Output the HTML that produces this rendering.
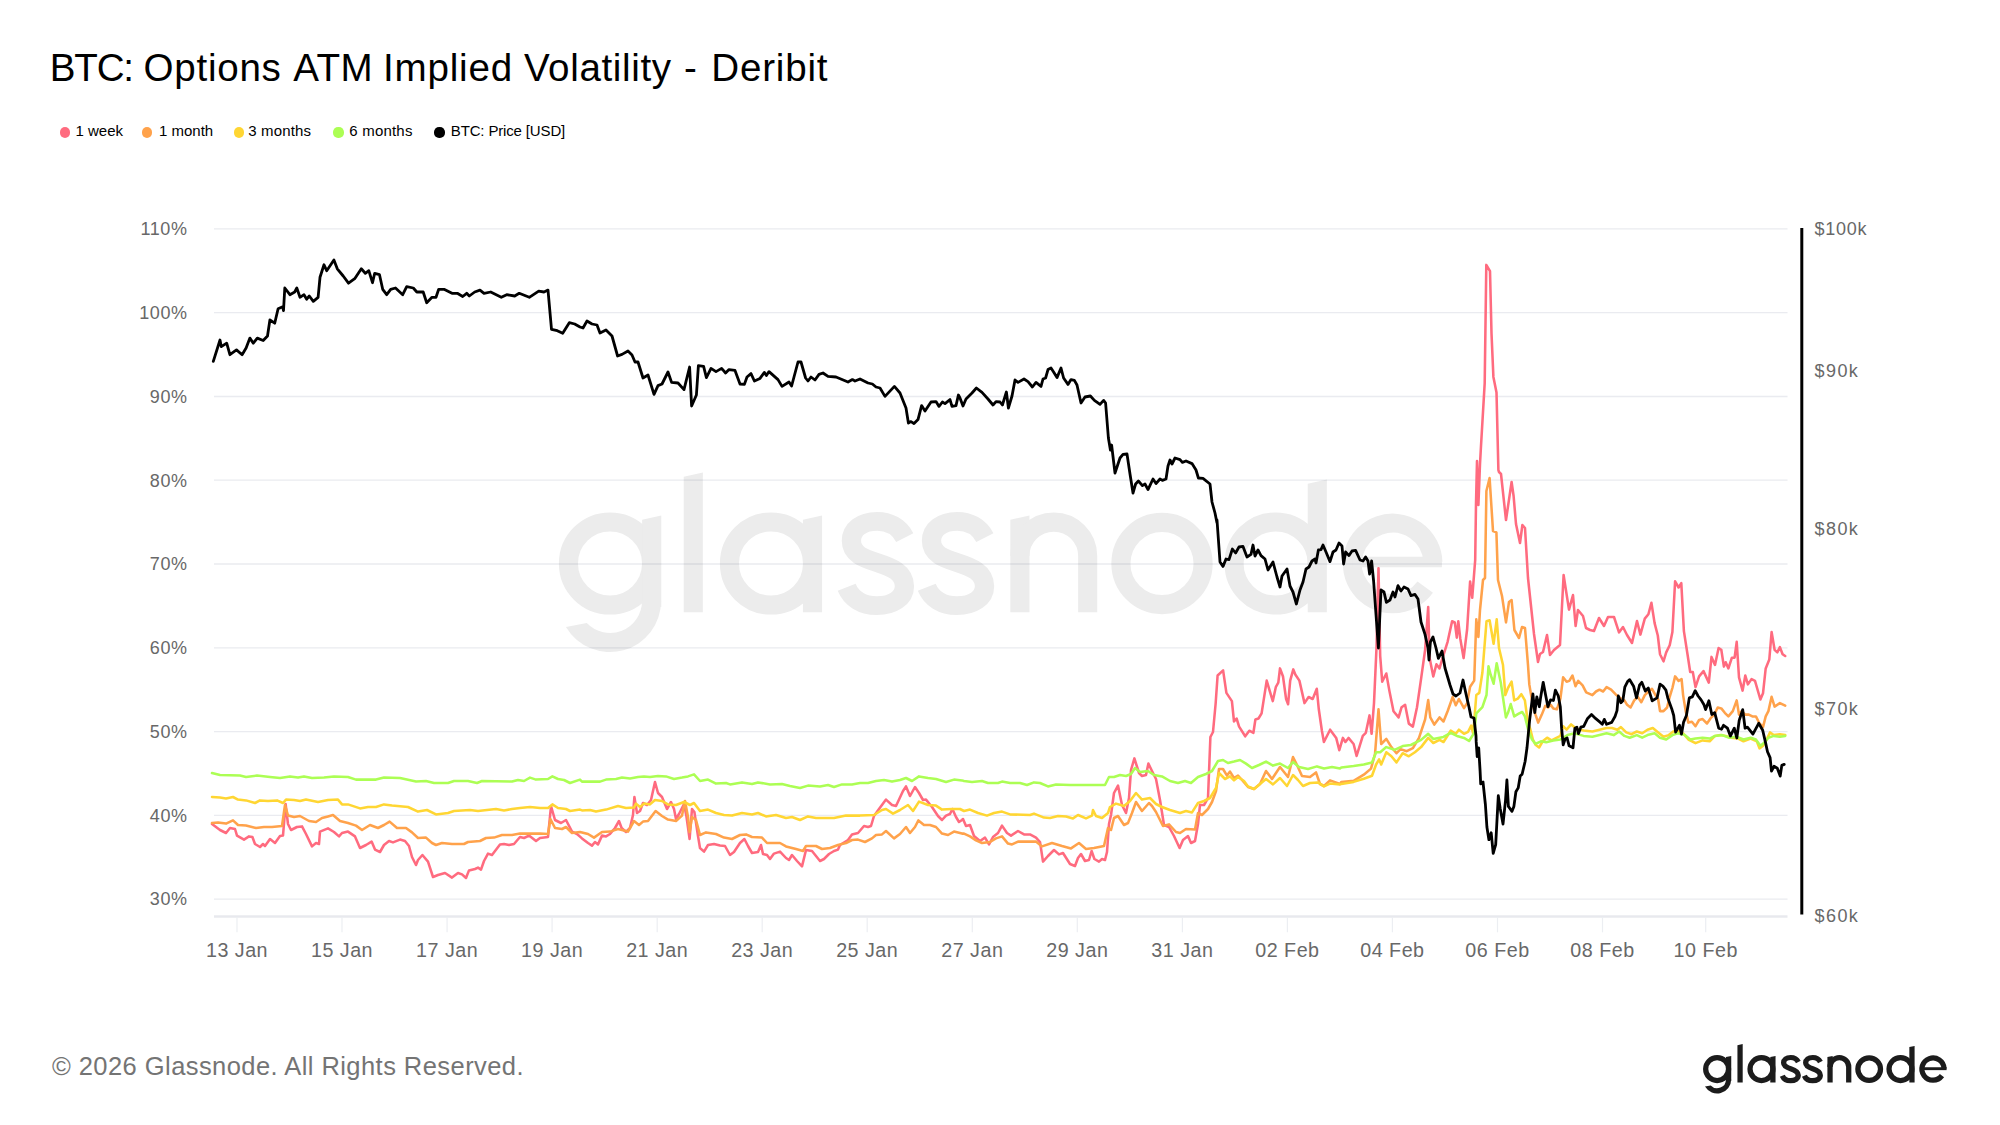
<!DOCTYPE html>
<html><head><meta charset="utf-8"><title>BTC: Options ATM Implied Volatility - Deribit</title>
<style>
html,body{margin:0;padding:0;background:#fff}
body{width:2000px;height:1125px;position:relative;overflow:hidden;font-family:"Liberation Sans",sans-serif}
.tw{position:absolute;top:37.5px;font-size:38.6px;line-height:60px;height:60px;color:#000;white-space:nowrap}
.dot{position:absolute;top:127.4px;width:10.2px;height:10.2px;border-radius:50%}
.lt{position:absolute;top:122px;font-size:15px;line-height:18px;color:#000;white-space:nowrap}
.foot{position:absolute;left:52px;top:1035.7px;font-size:25.5px;line-height:60px;height:60px;color:#747474;white-space:nowrap;letter-spacing:0.438px}
</style></head><body>
<div class="tw" style="left:49.7px;letter-spacing:-1.167px">BTC:</div><div class="tw" style="left:143.6px;letter-spacing:0.717px">Options</div><div class="tw" style="left:293.2px;letter-spacing:0.4px">ATM</div><div class="tw" style="left:383.0px;letter-spacing:0.8px">Implied</div><div class="tw" style="left:523.9px;letter-spacing:0.622px">Volatility</div><div class="tw" style="left:684.1px;letter-spacing:0px">-</div><div class="tw" style="left:711.3px;letter-spacing:0.8px">Deribit</div>
<div class="dot" style="left:59.9px;background:#ff6b7f"></div><div class="lt" style="left:75.5px;letter-spacing:0px">1 week</div><div class="dot" style="left:142.1px;background:#ffa24b"></div><div class="lt" style="left:159px;letter-spacing:0px">1 month</div><div class="dot" style="left:233.6px;background:#ffd633"></div><div class="lt" style="left:248.3px;letter-spacing:0.15px">3 months</div><div class="dot" style="left:333.4px;background:#acfe54"></div><div class="lt" style="left:349.3px;letter-spacing:0.2px">6 months</div><div class="dot" style="left:434.4px;background:#000"></div><div class="lt" style="left:450.8px;letter-spacing:-0.15px">BTC: Price [USD]</div>
<svg width="2000" height="1125" viewBox="0 0 2000 1125" style="position:absolute;left:0;top:0"><g fill="none" stroke="#ececec" stroke-width="19.1" stroke-linecap="butt"><circle cx="610" cy="563.5" r="41.55"/><path stroke="none" fill="#ececec" d="M642.15 519.70 L661.25 515.50 L661.25 607 L642.15 607 Z"/><path stroke="none" fill="#ececec" d="M661.10 601 A51.10 51.10 0 0 1 565.97 626.94 L586.79 623.03 A32.00 32.00 0 0 0 642.00 601 Z"/><path stroke="none" fill="#ececec" d="M683.75 476.80 L702.85 472.60 L702.85 612.3 L683.75 612.3 Z"/><circle cx="771" cy="563.5" r="41.55"/><path stroke="none" fill="#ececec" d="M802.95 519.70 L822.05 515.50 L822.05 612.3 L802.95 612.3 Z"/><path transform="translate(837.8 512.4) scale(3.68 3.6)" stroke-width="5.25" d="M18.2 7.0 C16.6 3.9 13.8 2.5 10.7 2.5 C6.4 2.5 3.7 4.8 3.7 7.9 C3.7 11.6 7.2 12.8 10.6 13.9 C14.6 15.2 18.1 16.6 18.1 20.5 C18.1 23.8 14.9 25.9 10.6 25.9 C6.6 25.9 3.7 24.0 2.4 20.8"/><path transform="translate(917.9 512.4) scale(3.68 3.6)" stroke-width="5.25" d="M18.2 7.0 C16.6 3.9 13.8 2.5 10.7 2.5 C6.4 2.5 3.7 4.8 3.7 7.9 C3.7 11.6 7.2 12.8 10.6 13.9 C14.6 15.2 18.1 16.6 18.1 20.5 C18.1 23.8 14.9 25.9 10.6 25.9 C6.6 25.9 3.7 24.0 2.4 20.8"/><path stroke="none" fill="#ececec" d="M1010.35 519.70 L1029.45 515.50 L1029.45 612.3 L1010.35 612.3 Z"/><path d="M1019.9 556 A33.9 33.9 0 0 1 1087.7 556 L1087.7 612.3"/><circle cx="1162" cy="563.5" r="41.1"/><circle cx="1275.6" cy="563.5" r="41.55"/><path stroke="none" fill="#ececec" d="M1307.75 483.70 L1326.85 479.50 L1326.85 612.3 L1307.75 612.3 Z"/><path d="M1432.8999999999999 562.0 A40.3 40.3 0 1 0 1425.2 587.2"/><path stroke-width="10.5" d="M1352.3 562.0 L1441.9499999999998 562.0"/></g><line x1="214" x2="1787.5" y1="228.9" y2="228.9" stroke="#1e2a5c" stroke-opacity="0.095" stroke-width="1.3"/><line x1="214" x2="1787.5" y1="312.7" y2="312.7" stroke="#1e2a5c" stroke-opacity="0.095" stroke-width="1.3"/><line x1="214" x2="1787.5" y1="396.5" y2="396.5" stroke="#1e2a5c" stroke-opacity="0.095" stroke-width="1.3"/><line x1="214" x2="1787.5" y1="480.2" y2="480.2" stroke="#1e2a5c" stroke-opacity="0.095" stroke-width="1.3"/><line x1="214" x2="1787.5" y1="564.0" y2="564.0" stroke="#1e2a5c" stroke-opacity="0.095" stroke-width="1.3"/><line x1="214" x2="1787.5" y1="647.8" y2="647.8" stroke="#1e2a5c" stroke-opacity="0.095" stroke-width="1.3"/><line x1="214" x2="1787.5" y1="731.6" y2="731.6" stroke="#1e2a5c" stroke-opacity="0.095" stroke-width="1.3"/><line x1="214" x2="1787.5" y1="815.4" y2="815.4" stroke="#1e2a5c" stroke-opacity="0.095" stroke-width="1.3"/><line x1="214" x2="1787.5" y1="899.1" y2="899.1" stroke="#1e2a5c" stroke-opacity="0.095" stroke-width="1.3"/><line x1="214" x2="1787.5" y1="916.5" y2="916.5" stroke="#1e2a5c" stroke-opacity="0.1" stroke-width="2.4"/><line x1="237.0" x2="237.0" y1="917" y2="932.3" stroke="#eceef2" stroke-width="1.2"/><line x1="342.0" x2="342.0" y1="917" y2="932.3" stroke="#eceef2" stroke-width="1.2"/><line x1="447.1" x2="447.1" y1="917" y2="932.3" stroke="#eceef2" stroke-width="1.2"/><line x1="552.1" x2="552.1" y1="917" y2="932.3" stroke="#eceef2" stroke-width="1.2"/><line x1="657.2" x2="657.2" y1="917" y2="932.3" stroke="#eceef2" stroke-width="1.2"/><line x1="762.2" x2="762.2" y1="917" y2="932.3" stroke="#eceef2" stroke-width="1.2"/><line x1="867.2" x2="867.2" y1="917" y2="932.3" stroke="#eceef2" stroke-width="1.2"/><line x1="972.3" x2="972.3" y1="917" y2="932.3" stroke="#eceef2" stroke-width="1.2"/><line x1="1077.3" x2="1077.3" y1="917" y2="932.3" stroke="#eceef2" stroke-width="1.2"/><line x1="1182.4" x2="1182.4" y1="917" y2="932.3" stroke="#eceef2" stroke-width="1.2"/><line x1="1287.4" x2="1287.4" y1="917" y2="932.3" stroke="#eceef2" stroke-width="1.2"/><line x1="1392.4" x2="1392.4" y1="917" y2="932.3" stroke="#eceef2" stroke-width="1.2"/><line x1="1497.5" x2="1497.5" y1="917" y2="932.3" stroke="#eceef2" stroke-width="1.2"/><line x1="1602.5" x2="1602.5" y1="917" y2="932.3" stroke="#eceef2" stroke-width="1.2"/><line x1="1705.7" x2="1705.7" y1="917" y2="932.3" stroke="#eceef2" stroke-width="1.2"/><line x1="1801.8" x2="1801.8" y1="228" y2="914.5" stroke="#000" stroke-width="3"/><path d="M212.0 824.0 L220.0 830.0 L226.0 833.0 L230.0 828.0 L235.0 829.0 L237.0 835.6 L244.0 839.6 L249.0 836.4 L252.4 837.0 L255.0 844.0 L260.0 847.0 L263.0 844.0 L265.0 846.0 L270.0 839.0 L275.0 843.0 L280.0 836.0 L283.0 835.6 L285.6 804.0 L288.0 824.0 L291.0 830.0 L297.0 827.0 L302.0 826.4 L306.0 834.0 L312.0 846.4 L316.0 843.0 L319.0 844.0 L320.0 831.6 L328.0 828.4 L334.0 832.0 L339.0 836.4 L342.0 833.0 L348.0 831.6 L355.0 836.4 L360.0 848.0 L366.0 845.0 L371.6 841.6 L375.0 849.6 L380.0 852.0 L384.0 845.0 L389.0 841.0 L393.0 842.4 L400.0 839.6 L405.0 841.0 L409.0 846.0 L412.0 857.0 L416.0 865.0 L418.0 860.0 L422.4 855.0 L428.0 861.6 L433.0 877.0 L438.0 875.0 L445.0 873.0 L452.0 877.6 L458.0 873.0 L462.0 874.4 L466.0 878.0 L469.0 870.4 L475.0 869.0 L478.0 867.6 L481.0 869.6 L484.0 861.0 L488.0 853.6 L492.0 855.0 L500.0 844.4 L504.0 844.0 L509.0 845.0 L514.0 844.0 L520.0 837.0 L524.0 838.0 L529.0 835.6 L536.0 841.0 L540.0 838.0 L548.0 837.0 L551.0 806.0 L555.0 820.0 L561.0 823.0 L566.0 820.0 L572.0 831.6 L577.0 834.0 L582.0 838.4 L588.0 843.0 L592.0 845.6 L595.0 842.0 L598.0 844.4 L602.0 835.6 L606.0 836.4 L610.0 834.0 L615.0 828.0 L619.0 821.0 L621.6 828.0 L626.0 832.0 L630.0 828.0 L633.0 815.0 L634.4 797.0 L637.0 813.0 L640.0 811.0 L643.0 803.0 L647.0 805.0 L651.0 800.0 L655.0 782.0 L658.0 793.0 L662.0 797.0 L667.0 809.0 L671.0 802.0 L674.0 809.0 L676.0 819.0 L679.0 814.0 L684.0 804.0 L686.4 816.0 L689.6 839.0 L692.0 809.0 L694.4 812.0 L698.0 836.0 L700.0 848.0 L704.0 851.6 L708.0 845.0 L714.0 844.0 L720.0 845.6 L725.0 846.0 L730.0 855.0 L734.0 852.0 L740.0 843.0 L744.4 839.0 L748.0 846.0 L752.0 853.0 L758.0 852.0 L761.0 845.0 L763.0 854.0 L767.0 855.0 L770.0 859.0 L774.0 853.6 L780.0 851.6 L786.0 858.0 L789.0 860.0 L792.0 855.0 L797.0 861.0 L802.0 866.4 L806.0 850.0 L812.0 851.0 L816.0 856.0 L820.0 861.0 L824.0 859.0 L829.0 854.0 L834.0 851.0 L838.0 849.6 L840.0 845.0 L848.0 840.0 L852.0 834.4 L858.0 833.0 L864.0 826.0 L868.0 827.0 L871.0 826.0 L874.0 816.0 L879.0 809.0 L886.0 799.6 L892.0 805.0 L896.0 806.0 L903.0 791.0 L906.0 786.4 L910.0 796.0 L915.0 787.0 L919.0 793.0 L923.0 800.0 L926.0 799.6 L932.0 807.0 L938.0 816.0 L942.0 820.0 L946.0 815.6 L950.0 814.0 L952.4 809.0 L956.0 817.0 L959.0 822.0 L962.0 820.0 L963.0 819.0 L966.0 826.0 L970.0 825.0 L974.0 836.0 L980.0 841.0 L985.0 837.6 L989.0 844.4 L993.0 837.0 L998.0 833.0 L1002.0 825.6 L1007.0 833.0 L1011.0 835.6 L1018.0 831.0 L1024.0 834.4 L1030.0 834.4 L1036.0 837.6 L1040.0 842.0 L1043.0 861.6 L1048.0 856.0 L1054.0 850.0 L1059.0 854.4 L1063.0 853.0 L1070.0 864.0 L1075.0 866.0 L1078.0 858.0 L1081.0 854.0 L1085.0 861.0 L1089.0 860.0 L1091.6 851.0 L1094.4 859.0 L1099.0 861.6 L1102.0 859.0 L1105.0 860.0 L1107.0 852.0 L1109.0 824.0 L1111.0 815.0 L1114.0 793.0 L1118.0 785.6 L1122.0 805.0 L1126.0 813.0 L1129.0 798.0 L1131.0 770.0 L1134.4 758.4 L1139.0 773.0 L1142.0 776.0 L1146.0 775.0 L1148.4 763.6 L1152.0 771.0 L1156.0 779.0 L1160.0 800.0 L1164.0 825.0 L1169.0 827.0 L1174.0 836.0 L1179.6 848.0 L1183.0 840.0 L1188.0 836.0 L1191.0 843.0 L1195.0 841.0 L1198.0 824.0 L1200.0 805.0 L1204.0 805.0 L1208.0 798.0 L1210.4 737.0 L1213.0 732.0 L1215.6 704.0 L1217.6 675.5 L1223.1 670.4 L1226.4 692.9 L1231.9 701.1 L1234.0 721.5 L1236.6 718.5 L1239.1 726.6 L1245.2 736.3 L1249.3 730.7 L1253.4 732.8 L1255.4 719.5 L1258.5 718.5 L1261.6 713.4 L1266.7 680.6 L1269.7 690.9 L1272.8 701.1 L1275.9 686.8 L1278.3 682.7 L1280.0 668.4 L1283.0 676.5 L1286.1 699.0 L1288.1 704.2 L1290.2 680.6 L1293.3 669.4 L1295.3 674.5 L1299.4 680.6 L1304.5 703.1 L1308.6 697.0 L1312.7 699.0 L1316.8 688.8 L1318.8 709.3 L1321.9 730.7 L1323.9 742.0 L1330.1 729.7 L1336.2 737.9 L1339.3 750.2 L1342.9 737.9 L1345.4 742.0 L1348.5 737.9 L1353.6 744.0 L1356.6 755.9 L1362.8 735.8 L1365.8 732.8 L1369.5 715.4 L1371.6 733.8 L1374.0 703.1 L1376.5 647.9 L1378.5 568.2 L1380.2 656.1 L1382.2 681.7 L1386.3 673.5 L1389.4 690.9 L1393.5 711.3 L1398.6 717.4 L1401.6 707.2 L1405.1 704.8 L1408.8 723.6 L1412.9 726.6 L1417.0 707.2 L1421.1 678.6 L1425.1 650.0 L1428.2 607.0 L1429.6 658.1 L1433.3 676.5 L1436.4 664.3 L1439.5 668.4 L1442.5 658.1 L1447.6 641.8 L1452.1 621.3 L1454.8 622.4 L1456.8 637.7 L1458.3 621.3 L1460.3 638.7 L1463.6 658.1 L1467.1 629.5 L1470.1 581.5 L1472.2 597.8 L1475.2 560.0 L1476.0 504.0 L1477.0 461.0 L1478.4 505.0 L1480.0 464.0 L1481.0 446.0 L1484.7 383.1 L1486.3 264.9 L1490.0 271.1 L1491.5 333.3 L1493.4 376.9 L1496.5 392.4 L1498.4 470.2 L1499.0 472.0 L1501.0 474.0 L1506.0 520.0 L1511.6 482.0 L1513.6 496.0 L1516.0 524.0 L1520.0 543.0 L1522.4 525.0 L1525.0 528.0 L1528.0 578.0 L1534.0 634.0 L1538.0 662.0 L1540.0 654.0 L1543.0 652.0 L1547.0 635.0 L1550.0 655.0 L1554.0 650.0 L1560.0 645.0 L1563.6 575.0 L1565.6 588.0 L1569.0 609.6 L1573.0 595.0 L1575.6 626.0 L1578.0 610.0 L1583.0 616.0 L1586.0 628.0 L1590.0 630.0 L1594.0 631.0 L1599.0 618.0 L1604.0 626.0 L1608.0 617.0 L1614.0 617.0 L1619.0 632.4 L1623.0 627.0 L1627.0 635.0 L1632.0 643.0 L1637.0 621.0 L1640.4 634.6 L1644.8 618.6 L1648.4 614.2 L1651.4 602.7 L1654.6 623.1 L1657.8 635.5 L1660.0 654.2 L1663.5 661.3 L1666.2 652.4 L1669.7 645.3 L1672.4 632.0 L1675.1 581.3 L1678.6 587.5 L1681.3 583.1 L1683.9 631.1 L1687.5 654.2 L1690.2 672.0 L1692.8 672.0 L1695.5 687.1 L1699.1 676.4 L1703.5 671.1 L1708.8 682.6 L1711.5 656.9 L1715.0 664.9 L1718.6 648.0 L1721.3 649.8 L1723.9 666.6 L1725.7 662.2 L1728.4 668.4 L1731.9 657.7 L1734.6 657.7 L1736.7 641.8 L1739.0 677.3 L1742.6 690.6 L1745.3 675.5 L1747.9 684.4 L1751.5 679.1 L1755.0 680.9 L1760.4 699.5 L1763.0 693.3 L1765.7 668.4 L1769.3 659.5 L1771.6 632.0 L1774.6 649.8 L1777.3 652.4 L1779.9 647.1 L1782.6 654.2 L1785.2 656.0" fill="none" stroke="#ff6b7f" stroke-width="2.55" stroke-linejoin="round" stroke-linecap="round"/><path d="M212.0 823.0 L218.0 822.4 L226.0 823.6 L233.0 820.4 L238.0 825.0 L246.0 825.6 L256.0 828.0 L264.0 827.0 L272.0 827.0 L282.0 826.0 L285.0 805.0 L288.0 815.6 L294.0 817.0 L300.0 816.0 L309.0 821.0 L316.0 822.0 L322.0 818.0 L328.0 816.4 L333.0 815.0 L340.0 821.0 L348.0 823.0 L356.0 825.6 L362.0 830.0 L370.0 825.0 L378.0 828.0 L384.0 825.0 L389.6 821.6 L397.0 828.0 L406.0 828.0 L412.0 832.4 L418.0 838.0 L426.0 837.6 L432.0 843.0 L436.0 845.0 L442.0 843.0 L452.0 844.0 L464.0 844.0 L468.0 842.0 L480.0 841.0 L486.0 838.0 L494.0 837.6 L502.0 835.0 L512.0 835.0 L520.0 833.6 L530.0 833.6 L540.0 833.6 L548.0 834.0 L550.4 819.0 L555.0 828.0 L562.0 829.0 L566.0 827.0 L572.0 833.0 L580.0 832.0 L582.0 832.4 L588.0 834.0 L594.0 837.6 L602.0 832.0 L610.0 831.6 L618.0 829.0 L628.0 831.6 L634.0 821.0 L639.0 825.0 L643.0 821.6 L648.0 821.0 L655.6 811.0 L662.0 816.0 L668.0 819.6 L676.0 821.0 L682.0 815.6 L685.0 801.0 L688.0 817.0 L689.6 832.0 L692.0 817.0 L696.0 820.0 L700.0 835.0 L706.0 832.4 L716.0 834.0 L724.0 837.6 L732.0 839.0 L740.0 835.0 L746.0 834.4 L752.0 837.0 L762.0 837.6 L767.0 843.0 L780.0 843.0 L786.0 846.4 L796.0 849.0 L803.0 851.0 L806.0 846.0 L816.0 846.0 L822.0 849.0 L830.0 848.0 L838.0 845.0 L846.0 843.0 L852.0 840.0 L858.0 839.6 L865.0 842.0 L872.0 838.4 L876.0 835.0 L882.0 834.4 L886.0 831.0 L894.0 838.4 L900.0 834.0 L906.0 827.0 L910.0 833.0 L915.0 827.0 L918.4 820.4 L924.0 825.0 L930.0 825.0 L936.0 827.0 L942.0 833.6 L948.0 835.0 L954.0 831.6 L962.0 833.6 L964.0 833.6 L970.0 836.4 L976.0 840.4 L982.0 843.0 L990.0 842.0 L996.0 838.4 L1002.0 836.4 L1008.0 843.6 L1012.0 844.4 L1018.0 841.6 L1026.0 841.6 L1036.0 841.6 L1042.0 846.4 L1052.0 843.0 L1062.0 846.0 L1071.0 848.4 L1079.0 843.0 L1086.0 849.0 L1094.0 848.0 L1104.0 846.0 L1108.0 828.0 L1111.0 830.0 L1114.0 818.0 L1118.0 816.0 L1124.0 825.0 L1128.0 823.0 L1132.0 813.0 L1136.0 802.0 L1142.0 811.0 L1149.0 803.0 L1152.0 806.0 L1156.0 812.0 L1159.0 818.0 L1163.0 826.0 L1169.0 824.4 L1176.0 832.0 L1180.0 833.0 L1186.0 829.0 L1195.0 829.6 L1198.0 813.0 L1202.0 815.0 L1208.0 809.0 L1212.0 802.0 L1216.0 791.0 L1219.0 769.0 L1223.0 769.0 L1227.0 775.6 L1230.0 771.6 L1234.0 778.0 L1238.0 775.6 L1242.0 780.0 L1248.0 787.0 L1254.0 789.0 L1260.0 784.0 L1266.0 771.0 L1272.0 779.0 L1280.0 767.0 L1288.0 777.0 L1293.0 757.0 L1297.0 765.0 L1302.0 776.0 L1310.0 777.0 L1316.0 772.4 L1320.0 784.0 L1324.0 786.0 L1330.0 780.4 L1340.0 784.0 L1341.3 781.9 L1353.6 780.8 L1363.8 774.7 L1371.0 768.6 L1375.0 754.2 L1378.5 709.3 L1381.2 744.0 L1386.3 738.9 L1391.4 747.1 L1396.5 753.2 L1400.6 749.1 L1406.7 751.2 L1412.9 748.1 L1419.0 737.9 L1425.1 719.5 L1428.2 700.1 L1430.3 717.4 L1434.3 724.6 L1439.5 717.4 L1443.5 721.5 L1447.6 711.3 L1452.7 697.0 L1455.8 705.2 L1458.9 699.0 L1464.0 708.2 L1467.1 703.1 L1470.1 686.8 L1474.2 680.6 L1476.3 619.3 L1478.4 637.0 L1480.0 610.0 L1483.0 580.0 L1485.0 578.0 L1486.4 491.0 L1489.6 478.0 L1493.0 531.0 L1496.4 532.4 L1498.0 580.0 L1502.0 596.0 L1506.0 622.4 L1509.0 602.0 L1511.6 600.0 L1514.4 630.0 L1519.0 638.0 L1522.0 627.0 L1525.0 628.0 L1528.0 665.0 L1529.3 684.4 L1532.9 705.7 L1535.5 714.6 L1538.2 722.6 L1541.8 714.6 L1545.3 705.7 L1548.0 707.5 L1550.7 704.8 L1553.3 708.4 L1556.9 709.3 L1560.4 698.6 L1563.1 677.3 L1566.6 681.7 L1569.3 680.9 L1572.5 675.5 L1575.5 686.2 L1578.2 680.9 L1582.6 685.3 L1586.2 692.4 L1592.4 695.1 L1596.0 691.5 L1599.5 689.7 L1603.1 691.5 L1606.6 687.1 L1611.1 689.7 L1615.5 694.2 L1620.9 698.6 L1624.4 700.4 L1627.1 704.8 L1630.6 707.5 L1634.2 700.4 L1637.7 696.8 L1641.3 702.2 L1644.8 695.1 L1648.4 691.5 L1652.0 688.9 L1655.5 695.1 L1658.2 699.5 L1660.0 711.1 L1663.5 711.1 L1667.1 707.5 L1669.7 696.8 L1672.4 688.0 L1675.1 676.4 L1678.6 680.9 L1681.6 679.1 L1683.1 695.1 L1685.7 711.1 L1688.4 722.6 L1691.9 721.7 L1695.5 726.2 L1699.1 720.0 L1702.6 719.1 L1707.0 723.5 L1710.6 718.2 L1714.2 714.6 L1717.7 707.5 L1721.3 708.4 L1724.8 712.8 L1728.4 716.4 L1732.8 711.1 L1736.7 700.4 L1739.0 714.6 L1741.7 711.1 L1745.3 714.6 L1748.8 714.6 L1752.4 716.4 L1755.9 716.4 L1759.5 723.5 L1763.0 727.1 L1765.7 716.4 L1768.4 711.1 L1771.6 696.8 L1774.6 706.6 L1779.9 703.1 L1785.2 705.7" fill="none" stroke="#ffa24b" stroke-width="2.55" stroke-linejoin="round" stroke-linecap="round"/><path d="M212.0 797.0 L220.0 797.6 L226.0 798.4 L233.0 797.0 L238.0 799.6 L246.0 800.4 L255.0 803.0 L260.0 800.4 L268.0 801.0 L277.0 800.4 L283.0 803.0 L286.0 799.6 L294.0 800.0 L300.0 801.0 L306.0 799.6 L318.0 802.0 L328.0 800.0 L338.0 799.6 L342.0 804.4 L348.0 804.4 L360.0 808.4 L368.0 807.0 L376.0 807.0 L384.0 804.4 L392.0 805.6 L408.0 807.0 L418.0 811.6 L427.0 810.0 L436.0 814.4 L448.0 813.0 L454.0 811.0 L470.0 810.0 L478.0 811.0 L496.0 809.0 L504.0 810.4 L512.0 809.0 L520.0 808.0 L530.0 807.0 L540.0 808.0 L548.0 808.0 L552.4 804.4 L558.0 808.0 L566.0 809.0 L570.0 811.0 L580.0 809.6 L582.0 810.4 L590.0 810.0 L596.0 811.6 L606.0 809.6 L618.0 806.0 L626.0 808.0 L634.0 807.6 L636.0 803.6 L640.0 807.0 L644.0 803.6 L650.0 804.4 L655.0 800.0 L662.0 801.0 L668.0 804.4 L676.0 805.0 L684.0 802.0 L690.0 805.0 L694.0 803.0 L700.0 811.0 L708.0 809.6 L716.0 813.0 L724.0 815.0 L732.0 815.6 L742.0 813.0 L752.0 814.4 L758.0 813.0 L766.0 816.4 L776.0 815.0 L786.0 818.0 L792.0 817.0 L800.0 820.0 L808.0 816.4 L816.0 818.0 L834.0 818.0 L846.0 815.6 L860.0 815.6 L874.0 815.0 L882.0 810.0 L886.0 809.0 L893.0 813.6 L900.0 810.0 L908.0 805.0 L913.0 811.0 L919.0 801.6 L928.0 805.0 L936.0 805.6 L942.0 809.6 L952.0 809.0 L960.0 809.0 L964.0 811.0 L970.0 809.6 L978.0 813.0 L987.0 815.6 L994.0 813.0 L1002.0 811.6 L1010.0 814.4 L1030.0 815.0 L1034.0 813.6 L1044.0 817.6 L1050.0 818.0 L1058.0 816.0 L1066.0 816.4 L1073.0 818.4 L1078.0 815.0 L1086.0 818.4 L1092.0 815.6 L1093.0 810.0 L1096.0 816.0 L1102.0 818.0 L1108.0 813.0 L1110.0 807.0 L1116.0 803.6 L1124.0 806.0 L1130.0 801.0 L1136.0 793.0 L1142.0 799.6 L1150.0 798.0 L1156.0 804.0 L1162.0 807.0 L1170.0 810.0 L1180.0 813.0 L1186.0 811.0 L1192.0 812.4 L1198.0 803.0 L1204.0 801.0 L1210.0 798.0 L1216.0 788.0 L1219.0 773.0 L1225.0 779.0 L1230.0 776.4 L1234.0 780.4 L1238.0 777.0 L1244.0 781.0 L1248.0 786.4 L1254.0 789.0 L1260.0 784.0 L1266.0 779.0 L1273.0 784.4 L1280.0 778.0 L1287.0 786.0 L1293.0 775.0 L1298.0 780.0 L1303.0 786.0 L1310.0 783.0 L1318.0 782.4 L1324.0 786.4 L1330.0 783.6 L1340.0 784.4 L1341.3 783.9 L1353.6 781.9 L1363.8 778.8 L1372.0 775.7 L1376.1 764.5 L1379.1 759.4 L1381.2 764.5 L1386.3 752.2 L1391.4 756.3 L1396.5 762.4 L1402.7 753.2 L1408.8 756.3 L1414.9 752.2 L1421.1 747.1 L1428.2 737.9 L1433.3 743.0 L1439.5 739.9 L1443.5 742.0 L1450.7 730.7 L1455.8 733.8 L1458.9 729.7 L1464.0 733.8 L1468.1 731.8 L1471.2 725.6 L1473.2 733.8 L1476.3 695.0 L1479.3 692.9 L1482.4 672.5 L1486.5 621.3 L1489.6 620.3 L1493.6 643.8 L1496.7 619.3 L1499.0 648.0 L1503.0 665.0 L1505.3 695.1 L1508.0 688.0 L1511.6 681.7 L1514.2 700.4 L1517.8 698.6 L1521.3 694.2 L1524.9 700.4 L1527.5 720.0 L1530.2 728.8 L1532.9 739.5 L1535.5 744.8 L1539.1 747.5 L1542.7 741.3 L1547.1 737.7 L1551.5 740.4 L1556.9 737.7 L1560.4 735.9 L1563.1 726.2 L1566.6 729.7 L1571.1 724.4 L1576.4 728.8 L1583.5 730.6 L1592.4 731.5 L1599.5 729.7 L1606.6 728.0 L1612.0 728.0 L1617.3 729.7 L1620.9 727.1 L1626.2 732.4 L1631.5 734.2 L1636.8 731.5 L1642.2 733.3 L1647.5 729.7 L1652.8 728.0 L1658.2 732.4 L1663.5 736.8 L1668.8 735.1 L1673.3 731.5 L1677.7 730.6 L1683.1 733.3 L1688.4 739.5 L1695.5 743.1 L1702.6 740.4 L1709.7 741.3 L1715.0 735.9 L1720.4 735.1 L1725.7 735.9 L1731.0 737.7 L1738.2 738.6 L1743.5 741.3 L1750.6 738.6 L1756.8 741.3 L1759.5 748.4 L1763.0 745.7 L1766.6 739.5 L1770.1 732.4 L1773.7 735.1 L1779.9 734.2 L1785.2 735.1" fill="none" stroke="#ffd633" stroke-width="2.55" stroke-linejoin="round" stroke-linecap="round"/><path d="M212.0 773.0 L220.0 775.0 L240.0 775.6 L246.0 777.0 L257.0 775.6 L270.0 777.0 L280.0 778.0 L290.0 776.4 L298.0 777.6 L304.0 776.4 L312.0 778.0 L324.0 777.6 L334.0 776.4 L348.0 777.0 L356.0 779.6 L376.0 779.6 L384.0 777.6 L400.0 778.0 L416.0 781.6 L426.0 781.0 L434.0 783.0 L448.0 783.0 L454.0 781.0 L468.0 781.0 L477.0 783.0 L482.0 781.0 L512.0 781.6 L518.0 780.0 L524.0 781.0 L530.0 777.6 L536.0 779.6 L548.0 779.0 L552.4 776.4 L558.0 779.0 L564.0 780.0 L570.0 783.0 L580.0 779.6 L582.0 781.6 L600.0 781.6 L606.0 779.6 L616.0 779.0 L622.0 777.6 L630.0 778.4 L638.0 777.0 L644.0 776.4 L650.0 777.0 L658.0 776.0 L666.0 776.4 L674.0 779.0 L682.0 777.6 L688.0 776.4 L694.0 774.4 L700.0 781.0 L708.0 779.6 L716.0 783.6 L726.0 783.0 L730.0 784.4 L742.0 782.4 L752.0 784.0 L758.0 782.4 L770.0 784.4 L782.0 784.0 L790.0 786.0 L800.0 788.0 L808.0 785.6 L820.0 786.4 L828.0 785.0 L834.0 787.0 L842.0 784.4 L852.0 784.4 L860.0 783.0 L868.0 783.0 L876.0 781.0 L884.0 780.0 L892.0 781.6 L900.0 780.0 L906.0 778.0 L912.0 781.0 L919.0 776.4 L928.0 778.0 L936.0 779.0 L946.0 782.0 L954.0 779.6 L962.0 780.4 L964.0 781.0 L972.0 782.0 L982.0 781.0 L988.0 783.0 L998.0 783.0 L1002.0 781.6 L1010.0 783.0 L1020.0 783.0 L1027.0 785.0 L1034.0 782.4 L1040.0 783.0 L1048.0 786.4 L1056.0 784.4 L1070.0 785.0 L1090.0 785.0 L1105.0 785.0 L1109.0 777.0 L1114.0 777.0 L1120.0 775.0 L1126.0 776.0 L1131.0 774.0 L1135.0 768.0 L1140.0 772.0 L1148.0 771.0 L1154.0 775.0 L1162.0 776.4 L1170.0 781.0 L1178.0 783.0 L1185.0 781.0 L1191.0 783.0 L1198.0 777.0 L1206.0 774.0 L1212.0 771.0 L1218.0 761.0 L1223.0 760.0 L1228.0 763.0 L1234.0 761.6 L1240.0 760.0 L1246.0 763.6 L1252.0 768.0 L1259.0 765.0 L1266.0 761.6 L1273.0 765.6 L1280.0 763.6 L1288.0 768.0 L1293.0 762.0 L1299.0 767.0 L1308.0 769.0 L1317.0 766.4 L1324.0 768.4 L1332.0 767.0 L1340.0 768.4 L1341.3 767.5 L1353.6 766.1 L1363.8 764.5 L1372.0 762.4 L1376.1 752.2 L1380.2 752.2 L1386.3 747.1 L1394.5 749.8 L1402.7 746.1 L1410.8 745.0 L1421.1 739.9 L1428.2 733.8 L1433.3 738.9 L1443.5 736.9 L1450.7 732.8 L1457.9 736.3 L1464.0 737.9 L1469.1 741.0 L1474.2 732.8 L1476.3 713.4 L1482.4 707.2 L1486.5 695.0 L1488.5 666.3 L1490.6 674.5 L1493.6 683.7 L1496.7 663.3 L1500.8 682.7 L1505.9 717.4 L1508.0 712.8 L1510.7 704.0 L1514.2 716.4 L1518.7 713.7 L1522.2 712.0 L1524.9 716.4 L1528.4 730.6 L1532.0 739.5 L1535.5 743.9 L1540.9 741.3 L1546.2 742.2 L1553.3 740.4 L1560.4 739.5 L1567.5 735.1 L1574.6 733.3 L1583.5 735.9 L1592.4 736.8 L1599.5 735.1 L1606.6 733.3 L1613.7 735.1 L1619.1 731.5 L1624.4 735.9 L1629.7 737.7 L1636.8 735.1 L1642.2 737.7 L1647.5 735.1 L1654.6 733.3 L1660.0 737.7 L1666.2 739.5 L1672.4 735.1 L1677.7 733.3 L1684.8 735.1 L1690.2 739.5 L1695.5 738.6 L1702.6 737.7 L1709.7 738.6 L1715.0 735.9 L1722.2 735.1 L1729.3 737.7 L1736.4 736.8 L1743.5 739.5 L1750.6 737.7 L1755.9 739.5 L1760.4 745.7 L1764.8 742.2 L1768.4 737.7 L1773.7 735.9 L1779.9 736.8 L1785.2 735.9" fill="none" stroke="#acfe54" stroke-width="2.55" stroke-linejoin="round" stroke-linecap="round"/><path d="M213.3 361.3 L220.0 340.0 L221.3 346.7 L226.7 343.2 L229.9 354.7 L236.5 349.9 L242.1 354.7 L246.1 348.0 L249.9 338.1 L253.3 343.2 L257.3 338.1 L263.2 340.5 L267.5 336.0 L269.9 320.0 L274.7 323.2 L278.1 308.8 L282.7 306.7 L283.5 310.7 L284.8 288.0 L289.9 294.7 L294.7 292.0 L296.8 288.0 L300.0 297.3 L304.0 294.7 L306.7 299.2 L309.3 296.0 L313.3 301.3 L318.1 297.3 L320.0 277.3 L324.0 264.8 L326.7 270.7 L333.9 260.0 L337.3 268.8 L343.2 276.0 L348.5 283.2 L354.7 278.7 L361.3 268.8 L365.3 273.3 L368.8 270.7 L372.5 282.7 L374.7 273.3 L379.5 274.7 L382.7 289.3 L386.7 294.7 L390.7 289.3 L395.5 288.0 L402.7 294.7 L406.7 286.7 L413.3 288.0 L416.8 292.0 L423.2 292.0 L426.7 302.7 L432.0 297.3 L436.0 297.3 L438.7 289.3 L444.0 289.3 L452.0 293.3 L457.3 293.3 L462.7 296.5 L466.7 293.3 L469.3 296.0 L474.7 292.0 L480.0 290.1 L484.0 293.3 L490.7 292.0 L501.3 297.3 L506.7 294.7 L514.7 296.0 L519.2 293.3 L529.3 297.3 L538.7 291.2 L544.0 292.0 L548.0 290.1 L551.5 329.3 L557.3 330.7 L562.7 333.3 L569.3 322.7 L574.7 324.0 L580.0 327.0 L583.0 328.0 L587.0 321.0 L592.0 324.0 L597.0 325.0 L600.0 333.0 L606.0 330.0 L612.0 336.0 L617.6 356.0 L622.0 354.4 L628.0 351.0 L632.0 355.0 L635.0 362.0 L638.0 362.0 L643.0 378.0 L648.0 375.0 L654.0 394.4 L658.0 385.6 L662.0 384.0 L668.0 372.0 L671.6 382.4 L678.0 383.0 L684.0 389.6 L689.6 367.0 L691.6 406.0 L696.4 395.0 L698.4 365.6 L703.6 366.4 L706.4 377.6 L711.0 368.4 L716.0 371.6 L721.6 368.4 L725.6 373.0 L729.0 369.6 L735.0 370.4 L740.0 384.0 L744.4 384.4 L747.0 377.0 L751.0 373.6 L754.4 381.0 L760.0 378.4 L764.4 372.4 L766.4 375.6 L769.0 371.6 L778.0 379.6 L782.0 386.4 L789.0 382.0 L791.6 386.0 L798.0 362.0 L801.0 362.0 L805.6 378.0 L808.0 381.0 L811.0 377.0 L815.0 380.0 L819.0 374.4 L823.0 373.0 L828.0 376.4 L836.0 377.0 L848.0 382.0 L852.4 379.6 L855.0 381.0 L860.0 379.0 L868.0 383.0 L872.4 384.0 L876.0 387.0 L880.0 388.0 L885.0 396.4 L894.4 386.4 L900.0 393.0 L906.0 408.0 L908.4 423.0 L911.0 421.6 L914.0 423.6 L918.0 419.6 L921.6 405.6 L925.0 411.0 L931.0 402.0 L936.0 401.6 L939.0 406.4 L942.4 402.0 L945.0 403.6 L950.0 399.6 L952.0 406.4 L956.0 405.6 L958.4 395.0 L960.0 398.0 L963.0 406.0 L966.0 399.0 L972.0 393.0 L976.4 388.0 L982.0 392.4 L988.0 399.0 L993.0 405.0 L996.0 401.6 L1000.0 402.0 L1002.4 405.0 L1006.4 392.0 L1008.4 408.0 L1012.0 396.0 L1015.0 380.0 L1018.0 382.4 L1024.0 379.0 L1028.0 381.6 L1032.4 387.0 L1036.0 382.4 L1041.0 386.4 L1043.0 379.0 L1045.6 378.0 L1048.0 369.6 L1051.0 368.0 L1053.6 372.0 L1057.0 377.6 L1061.0 368.0 L1063.6 378.0 L1068.0 384.4 L1071.0 379.6 L1074.4 380.4 L1077.0 385.0 L1081.0 403.0 L1085.0 397.0 L1090.4 396.0 L1094.4 400.4 L1100.0 404.4 L1103.6 400.4 L1105.6 403.0 L1108.4 438.0 L1110.4 450.0 L1111.6 445.0 L1115.0 473.0 L1120.0 458.0 L1123.0 454.4 L1127.0 454.0 L1130.0 474.0 L1133.0 493.0 L1135.6 484.0 L1138.4 481.0 L1142.4 485.6 L1145.0 484.0 L1148.0 489.6 L1153.0 479.0 L1156.0 483.6 L1160.0 479.0 L1162.4 480.4 L1166.0 479.0 L1168.0 466.0 L1170.0 460.0 L1172.0 464.0 L1175.0 458.0 L1180.0 459.6 L1182.4 462.4 L1186.0 461.0 L1192.0 463.6 L1196.0 470.0 L1198.4 478.0 L1203.0 478.4 L1210.0 484.0 L1212.0 502.0 L1215.0 513.0 L1217.0 523.0 L1217.0 520.0 L1220.0 562.0 L1223.0 566.4 L1226.0 559.0 L1229.0 559.6 L1232.4 549.0 L1235.6 553.0 L1239.0 547.0 L1243.0 546.4 L1247.0 557.0 L1251.0 554.4 L1253.0 545.0 L1255.0 556.0 L1258.0 550.0 L1261.0 555.6 L1265.0 559.0 L1268.0 570.0 L1273.0 562.0 L1277.0 577.0 L1280.0 587.0 L1282.0 576.0 L1287.0 569.0 L1290.0 586.0 L1293.0 592.0 L1296.4 604.0 L1300.0 590.0 L1303.0 582.0 L1306.0 569.0 L1309.0 567.0 L1312.0 561.0 L1315.0 559.0 L1316.0 563.0 L1318.4 550.0 L1321.0 549.6 L1323.0 545.0 L1326.0 552.0 L1330.0 561.6 L1333.0 552.0 L1336.0 550.0 L1339.0 543.0 L1342.0 546.0 L1343.6 564.0 L1345.6 552.0 L1349.0 555.6 L1352.0 551.0 L1355.6 550.4 L1360.0 560.0 L1363.0 561.0 L1365.6 557.0 L1368.0 561.0 L1369.6 574.0 L1371.6 561.0 L1373.6 581.0 L1375.6 609.0 L1378.4 648.0 L1381.0 590.0 L1384.0 592.0 L1386.4 602.4 L1390.0 600.0 L1393.0 592.0 L1395.0 597.0 L1398.0 585.6 L1401.0 591.0 L1404.0 587.0 L1408.0 589.0 L1411.0 595.6 L1415.0 594.4 L1418.0 599.0 L1421.0 622.0 L1425.0 634.4 L1428.0 648.0 L1429.0 660.0 L1430.4 642.0 L1433.0 637.0 L1436.0 648.0 L1438.4 658.4 L1442.0 651.0 L1445.0 668.0 L1450.0 685.0 L1453.0 694.0 L1456.0 696.0 L1460.0 693.0 L1463.0 680.0 L1466.0 694.0 L1469.0 707.0 L1471.0 717.0 L1474.0 718.0 L1476.0 736.0 L1476.2 741.9 L1477.2 756.6 L1478.7 747.8 L1480.1 771.2 L1480.7 783.9 L1483.0 782.0 L1485.4 804.5 L1486.9 827.0 L1488.9 839.7 L1491.2 832.8 L1493.2 853.4 L1495.7 844.6 L1498.3 795.7 L1500.2 808.4 L1503.0 824.0 L1505.5 800.6 L1506.9 780.0 L1508.4 806.4 L1512.0 811.3 L1513.9 806.4 L1515.9 791.8 L1518.2 787.9 L1520.2 776.1 L1522.1 774.2 L1525.1 761.5 L1527.0 747.8 L1529.6 720.4 L1532.9 694.0 L1534.8 712.6 L1536.8 696.9 L1539.3 706.7 L1540.7 696.9 L1543.2 682.3 L1545.6 695.0 L1547.9 706.7 L1550.5 699.9 L1553.4 700.5 L1555.4 690.1 L1558.3 696.0 L1560.3 706.7 L1561.6 728.2 L1563.2 744.8 L1565.1 739.0 L1567.1 738.0 L1569.1 745.8 L1573.0 747.8 L1574.9 728.2 L1576.9 727.2 L1578.4 733.7 L1580.8 727.2 L1583.7 726.3 L1587.6 718.4 L1591.5 714.5 L1595.5 718.4 L1600.3 722.4 L1602.3 724.3 L1604.3 719.4 L1606.6 724.3 L1611.7 722.4 L1615.0 716.5 L1617.0 710.6 L1618.3 696.0 L1620.9 702.8 L1622.8 700.8 L1624.8 687.2 L1627.7 681.3 L1629.7 679.7 L1633.6 686.2 L1636.5 697.9 L1639.5 685.2 L1641.8 682.3 L1645.3 691.1 L1648.3 688.1 L1652.2 700.8 L1657.1 697.9 L1660.0 684.2 L1662.9 686.2 L1665.9 690.1 L1667.8 697.9 L1671.7 708.7 L1673.7 715.5 L1675.6 732.1 L1679.5 725.3 L1681.5 734.1 L1683.5 722.4 L1686.4 715.5 L1689.3 697.9 L1692.3 696.9 L1695.2 690.7 L1698.1 696.0 L1701.1 699.9 L1704.0 704.8 L1705.6 709.6 L1708.9 700.8 L1711.8 714.5 L1714.7 712.6 L1716.7 720.4 L1718.7 728.2 L1721.6 729.2 L1723.5 725.3 L1727.5 728.2 L1730.4 736.0 L1734.3 728.2 L1736.8 738.0 L1739.2 720.4 L1742.7 709.6 L1745.1 728.2 L1747.4 727.2 L1752.9 734.1 L1758.7 723.3 L1762.7 730.2 L1765.6 742.9 L1767.5 751.7 L1770.1 757.6 L1771.5 771.2 L1774.0 766.3 L1777.3 768.3 L1780.2 776.1 L1781.8 765.4 L1784.2 764.4" fill="none" stroke="#000" stroke-width="2.8" stroke-linejoin="round" stroke-linecap="round"/><g font-family="Liberation Sans, sans-serif" fill="#686868"><text x="187.6" y="235.2" font-size="18" text-anchor="end" letter-spacing="0.6">110%</text><text x="187.6" y="319.0" font-size="18" text-anchor="end" letter-spacing="0.6">100%</text><text x="187.6" y="402.8" font-size="18" text-anchor="end" letter-spacing="0.6">90%</text><text x="187.6" y="486.5" font-size="18" text-anchor="end" letter-spacing="0.6">80%</text><text x="187.6" y="570.3" font-size="18" text-anchor="end" letter-spacing="0.6">70%</text><text x="187.6" y="654.1" font-size="18" text-anchor="end" letter-spacing="0.6">60%</text><text x="187.6" y="737.9" font-size="18" text-anchor="end" letter-spacing="0.6">50%</text><text x="187.6" y="821.7" font-size="18" text-anchor="end" letter-spacing="0.6">40%</text><text x="187.6" y="905.4" font-size="18" text-anchor="end" letter-spacing="0.6">30%</text><text x="1814.6" y="235.1" font-size="18" letter-spacing="0.7">$100k</text><text x="1814.6" y="376.5" font-size="18" letter-spacing="1.4">$90k</text><text x="1814.6" y="534.9" font-size="18" letter-spacing="1.4">$80k</text><text x="1814.6" y="715.2" font-size="18" letter-spacing="1.4">$70k</text><text x="1814.6" y="921.8" font-size="18" letter-spacing="1.4">$60k</text><text x="237.0" y="957" font-size="19.7" text-anchor="middle" letter-spacing="0.5">13 Jan</text><text x="342.0" y="957" font-size="19.7" text-anchor="middle" letter-spacing="0.5">15 Jan</text><text x="447.1" y="957" font-size="19.7" text-anchor="middle" letter-spacing="0.5">17 Jan</text><text x="552.1" y="957" font-size="19.7" text-anchor="middle" letter-spacing="0.5">19 Jan</text><text x="657.2" y="957" font-size="19.7" text-anchor="middle" letter-spacing="0.5">21 Jan</text><text x="762.2" y="957" font-size="19.7" text-anchor="middle" letter-spacing="0.5">23 Jan</text><text x="867.2" y="957" font-size="19.7" text-anchor="middle" letter-spacing="0.5">25 Jan</text><text x="972.3" y="957" font-size="19.7" text-anchor="middle" letter-spacing="0.5">27 Jan</text><text x="1077.3" y="957" font-size="19.7" text-anchor="middle" letter-spacing="0.5">29 Jan</text><text x="1182.4" y="957" font-size="19.7" text-anchor="middle" letter-spacing="0.5">31 Jan</text><text x="1287.4" y="957" font-size="19.7" text-anchor="middle" letter-spacing="0.5">02 Feb</text><text x="1392.4" y="957" font-size="19.7" text-anchor="middle" letter-spacing="0.5">04 Feb</text><text x="1497.5" y="957" font-size="19.7" text-anchor="middle" letter-spacing="0.5">06 Feb</text><text x="1602.5" y="957" font-size="19.7" text-anchor="middle" letter-spacing="0.5">08 Feb</text><text x="1705.7" y="957" font-size="19.7" text-anchor="middle" letter-spacing="0.5">10 Feb</text></g><g transform="translate(1549.08 913.87) scale(0.27548)"><g fill="none" stroke="#1c1c1c" stroke-width="19.1" stroke-linecap="butt"><circle cx="610" cy="563.5" r="41.55"/><path stroke="none" fill="#1c1c1c" d="M642.15 519.70 L661.25 515.50 L661.25 607 L642.15 607 Z"/><path stroke="none" fill="#1c1c1c" d="M661.10 601 A51.10 51.10 0 0 1 565.97 626.94 L586.79 623.03 A32.00 32.00 0 0 0 642.00 601 Z"/><path stroke="none" fill="#1c1c1c" d="M683.75 476.80 L702.85 472.60 L702.85 612.3 L683.75 612.3 Z"/><circle cx="771" cy="563.5" r="41.55"/><path stroke="none" fill="#1c1c1c" d="M802.95 519.70 L822.05 515.50 L822.05 612.3 L802.95 612.3 Z"/><path transform="translate(837.8 512.4) scale(3.68 3.6)" stroke-width="5.25" d="M18.2 7.0 C16.6 3.9 13.8 2.5 10.7 2.5 C6.4 2.5 3.7 4.8 3.7 7.9 C3.7 11.6 7.2 12.8 10.6 13.9 C14.6 15.2 18.1 16.6 18.1 20.5 C18.1 23.8 14.9 25.9 10.6 25.9 C6.6 25.9 3.7 24.0 2.4 20.8"/><path transform="translate(917.9 512.4) scale(3.68 3.6)" stroke-width="5.25" d="M18.2 7.0 C16.6 3.9 13.8 2.5 10.7 2.5 C6.4 2.5 3.7 4.8 3.7 7.9 C3.7 11.6 7.2 12.8 10.6 13.9 C14.6 15.2 18.1 16.6 18.1 20.5 C18.1 23.8 14.9 25.9 10.6 25.9 C6.6 25.9 3.7 24.0 2.4 20.8"/><path stroke="none" fill="#1c1c1c" d="M1010.35 519.70 L1029.45 515.50 L1029.45 612.3 L1010.35 612.3 Z"/><path d="M1019.9 556 A33.9 33.9 0 0 1 1087.7 556 L1087.7 612.3"/><circle cx="1162" cy="563.5" r="41.1"/><circle cx="1275.6" cy="563.5" r="41.55"/><path stroke="none" fill="#1c1c1c" d="M1307.75 483.70 L1326.85 479.50 L1326.85 612.3 L1307.75 612.3 Z"/><path d="M1433.8999999999999 562.0 A40.3 40.3 0 1 0 1426.2 587.2"/><path stroke-width="10.5" d="M1353.3 562.0 L1442.9499999999998 562.0"/></g></g></svg>
<div class="foot">© 2026 Glassnode. All Rights Reserved.</div>
</body></html>
